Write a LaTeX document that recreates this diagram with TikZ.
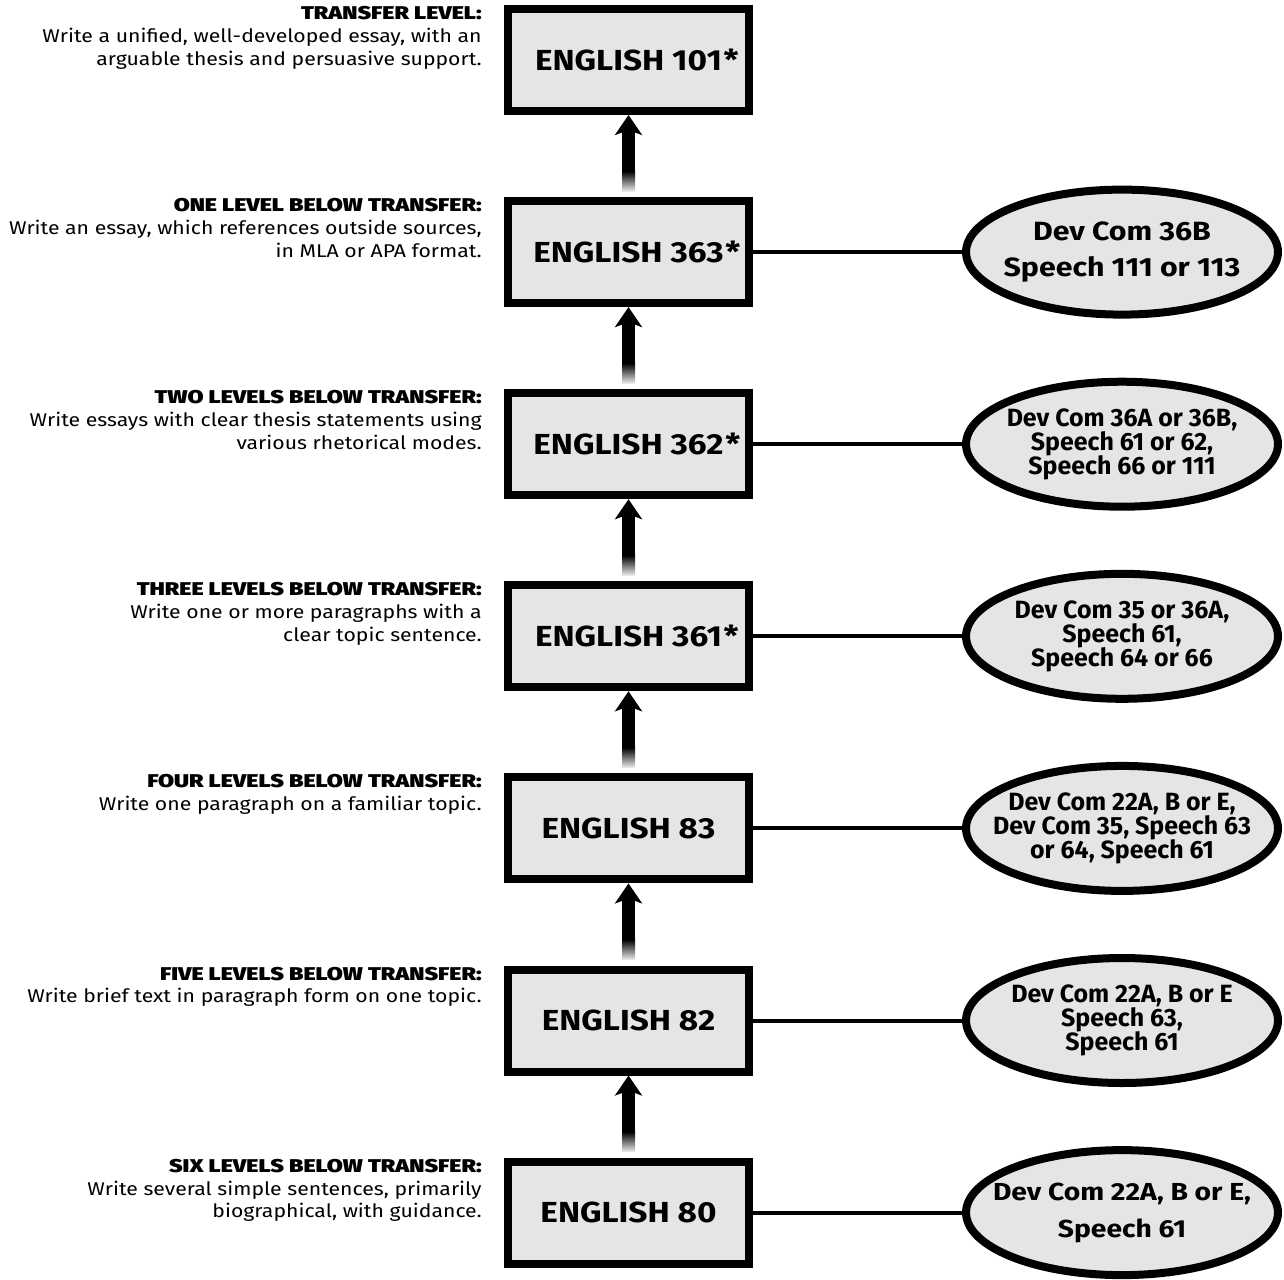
\documentclass[tikz,border=0pt]{standalone}
\usepackage{fontspec}
\setmainfont{Fira Sans}[FakeStretch=1.15]
\newfontfamily\headfont{Fira Sans Black}[FakeStretch=1.26]
\newfontfamily\narrowfont{Fira Sans}
\usetikzlibrary{shapes.geometric,arrows.meta}

\tikzset{
  course/.style={draw,line width=0.16cm,fill=black!10,minimum width=4.82cm,minimum height=2.04cm,
    inner sep=0pt,font=\fontsize{16.5}{20}\selectfont\bfseries},
  dev/.style={ellipse,draw,line width=0.16cm,fill=black!10,minimum width=6.24cm,minimum height=2.5cm,
    inner xsep=-2cm,inner ysep=-1cm,align=center,font=\fontsize{15}{21}\selectfont\bfseries},
  tight/.style={font=\narrowfont\fontsize{14.2}{13.6}\selectfont\bfseries,
    execute at begin node={\setlength{\lineskiplimit}{-100pt}}},
  level/.style={anchor=north east,align=right,inner sep=0pt,font=\fontsize{10.5}{13}\selectfont},
  link/.style={line width=0.08cm},
  up/.style={line width=0.26cm,-{Stealth[length=0.4cm,width=0.54cm,inset=0.1cm]}},
  fade/.style={top color=black,bottom color=black!8},
}

\begin{document}
\begin{tikzpicture}[x=0.02cm,y=-0.02cm]
\useasboundingbox (0,0) rectangle (1284,1279);

% course boxes
\node[course] (e101) at (628.5,60)    {ENGLISH 101\rlap{\kern1pt*}};
\node[course] (e363) at (628.5,252.1) {ENGLISH 363\rlap{\kern1pt*}};
\node[course] (e362) at (628.5,444.2) {ENGLISH 362\rlap{\kern1pt*}};
\node[course] (e361) at (628.5,636.3) {ENGLISH 361\rlap{\kern1pt*}};
\node[course] (e83)  at (628.5,828.4) {ENGLISH 83};
\node[course] (e82)  at (628.5,1020.5) {ENGLISH 82};
\node[course] (e80)  at (628.5,1212.6) {ENGLISH 80};

% levels
\node[level] (t101) at (482,6) {{\headfont TRANSFER LEVEL:}\\Write a unified, well-developed essay, with an\\arguable thesis and persuasive support.};
\node[level] (t363) at (482,198.1) {{\headfont ONE LEVEL BELOW TRANSFER:}\\Write an essay, which references outside sources,\\in MLA or APA format.};
\node[level] (t362) at (482,390.2) {{\headfont TWO LEVELS BELOW TRANSFER:}\\Write essays with clear thesis statements using\\various rhetorical modes.};
\node[level] (t361) at (482,582.3) {{\headfont THREE LEVELS BELOW TRANSFER:}\\Write one or more paragraphs with a\\clear topic sentence.};
\node[level] (t83)  at (482,774.4) {{\headfont FOUR LEVELS BELOW TRANSFER:}\\Write one paragraph on a familiar topic.};
\node[level] (t82)  at (482,966.5) {{\headfont FIVE LEVELS BELOW TRANSFER:}\\Write brief text in paragraph form on one topic.};
\node[level] (t80)  at (482,1158.6) {{\headfont SIX LEVELS BELOW TRANSFER:}\\Write several simple sentences, primarily\\biographical, with guidance.};

% other courses
\node[dev] (d363) at (1122,252.1) {Dev Com 36B\\Speech 111 or 113};
\node[dev,tight] (d362) at (1122,444.2) {Dev Com 36A or 36B,\\Speech 61 or 62,\\Speech 66 or 111};
\node[dev,tight] (d361) at (1122,636.3) {Dev Com 35 or 36A,\\Speech 61,\\Speech 64 or 66};
\node[dev,tight] (d83)  at (1122,828.4) {Dev Com 22A, B or E,\\Dev Com 35, Speech 63\\or 64, Speech 61};
\node[dev,tight] (d82)  at (1122,1020.5) {Dev Com 22A, B or E\\Speech 63,\\Speech 61};
\node[dev,font=\fontsize{14}{21}\selectfont\bfseries] (d80) at (1122,1212.6) {Dev Com 22A, B or E,\\Speech 61};

\foreach \c in {363,362,361,83,82,80}
  \draw[link] (e\c) -- (d\c);

% arrows up
\foreach \lo/\hi in {e363/e101,e362/e363,e361/e362,e83/e361,e82/e83,e80/e82} {
  \draw[up] ([yshift=0.12cm]\lo.north) -- (\hi.south);
  \shade[fade] ([xshift=-0.13cm,yshift=0.12cm]\lo.north) rectangle ([xshift=0.13cm,yshift=0.52cm]\lo.north);
}
\end{tikzpicture}
\end{document}
